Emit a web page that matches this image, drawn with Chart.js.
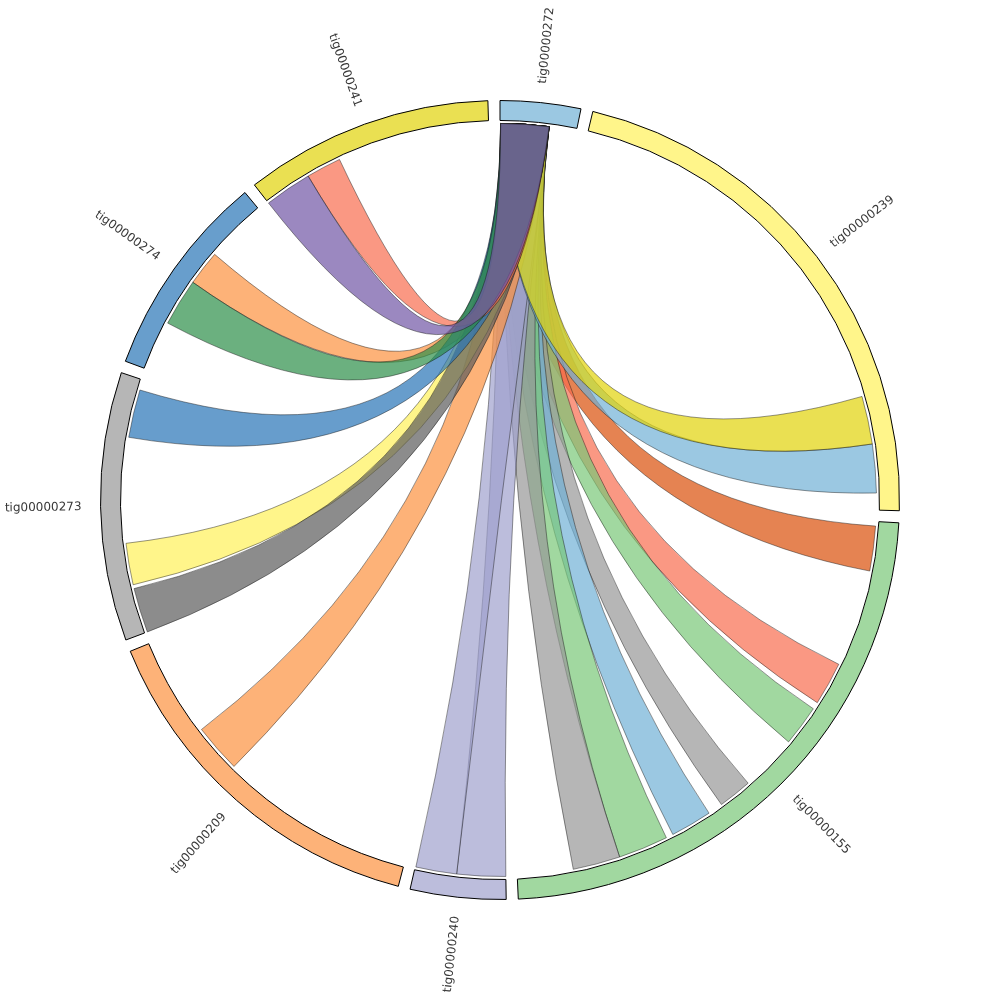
<!DOCTYPE html>
<html>

<head>
    <script src="https://cdn.jsdelivr.net/npm/chart.js"></script>
    <style>
        html,
        body {
            height: 100%;
            margin: 0px;
            background: #ffffff;
        }

        .container {
            height: 1000px;
            width: 1000px;
        }
    </style>
</head>

<body>
    <div class="container">
        <canvas id="myChart"></canvas>
    </div>

    <script>

        // contigs round the circle, clockwise from the top (lengths in kb)
        const contigs = ['tig00000272', 'tig00000239', 'tig00000155', 'tig00000240',
            'tig00000209', 'tig00000273', 'tig00000274', 'tig00000241'];
        const contigLengths = [117, 781, 841, 139, 530, 391, 300, 362];
        const contigColors = ['#9bc8e2', '#fff58a', '#a1d8a0', '#bcbddc',
            '#fdb278', '#b6b6b6', '#689ecc', '#eae052'];

        // links (positions in kb along each contig), drawn in this order
        const linkSource = ['tig00000272', 'tig00000272', 'tig00000272', 'tig00000272', 'tig00000272',
            'tig00000272', 'tig00000272', 'tig00000272', 'tig00000272', 'tig00000272',
            'tig00000272', 'tig00000272', 'tig00000272', 'tig00000272', 'tig00000272',
            'tig00000272', 'tig00000272', 'tig00000272', 'tig00000272'];
        const linkSourceStart = [1, 1, 1, 1, 1, 1, 1, 1, 1, 1, 1, 1, 1, 1, 1, 1, 1, 1, 1];
        const linkSourceEnd = [75, 75, 75, 75, 75, 75, 75, 75, 75, 75, 75, 75, 75, 75, 75, 75, 75, 75, 75];
        const linkTarget = ['tig00000155', 'tig00000155', 'tig00000155', 'tig00000155', 'tig00000155',
            'tig00000155', 'tig00000155', 'tig00000240', 'tig00000240', 'tig00000209',
            'tig00000239', 'tig00000239', 'tig00000273', 'tig00000274', 'tig00000273',
            'tig00000273', 'tig00000241', 'tig00000274', 'tig00000241'];
        const linkTargetStart = [7, 226, 304, 455, 530, 605, 682, 0, 75, 302, 680, 606, 75, 150, 0, 301, 73, 77, 0];
        const linkTargetEnd = [76, 293, 367, 507, 594, 682, 755, 75, 138, 377, 755, 680, 139, 204, 69, 375, 127, 150, 73];
        const linkColors = ['#e58353', '#fa9884', '#a1d8a0', '#b6b6b6', '#9bc8e2',
            '#a1d8a0', '#b6b6b6', '#bcbddc', '#bcbddc', '#fdb278',
            '#9bc8e2', '#eae052', '#fff58a', '#fdb278', '#8c8c8c',
            '#689ecc', '#fa9884', '#6bb07f', '#9b89c0'];

        const gapDeg = 1.7375;
        const ribbonAlpha = 0.7;
        const labelColor = '#383838';

        const total = contigLengths.reduce((a, b) => a + b, 0);
        const gap = total * gapDeg / (360 - contigs.length * gapDeg);

        // ring: contig, gap, contig, gap ...
        const ringData = [];
        const ringColors = [];
        const ringBorders = [];
        contigs.forEach((c, i) => {
            ringData.push(contigLengths[i]);
            ringColors.push(contigColors[i]);
            ringBorders.push(1);
            ringData.push(gap);
            ringColors.push('rgba(0,0,0,0)');
            ringBorders.push(0);
        });

        // colour that looks like `hex` on white once drawn with ribbonAlpha
        function ribbonFill(hex) {
            const n = parseInt(hex.slice(1), 16);
            const ch = [(n >> 16) & 255, (n >> 8) & 255, n & 255].map(v =>
                Math.max(0, Math.min(255, Math.round((v - 255 * (1 - ribbonAlpha)) / ribbonAlpha))));
            return `rgba(${ch[0]},${ch[1]},${ch[2]},${ribbonAlpha})`;
        }

        const chordPlugin = {
            id: 'chord',
            afterDatasetsDraw(chart) {
                const ctx = chart.ctx;
                const arcs = chart.getDatasetMeta(0).data;
                const cx = arcs[0].x;
                const cy = arcs[0].y;
                const r = arcs[0].innerRadius - 3;

                const angleAt = (name, pos) => {
                    const i = contigs.indexOf(name);
                    const a = arcs[i * 2];
                    return a.startAngle + (a.endAngle - a.startAngle) * pos / contigLengths[i];
                };

                ctx.save();
                ctx.lineWidth = 0.6;
                ctx.strokeStyle = 'rgba(20,20,20,0.75)';
                for (let i = 0; i < linkTarget.length; i++) {
                    const s0 = angleAt(linkSource[i], linkSourceStart[i]);
                    const s1 = angleAt(linkSource[i], linkSourceEnd[i]);
                    const t0 = angleAt(linkTarget[i], linkTargetStart[i]);
                    const t1 = angleAt(linkTarget[i], linkTargetEnd[i]);
                    ctx.beginPath();
                    ctx.arc(cx, cy, r, s0, s1);
                    ctx.quadraticCurveTo(cx, cy, cx + r * Math.cos(t0), cy + r * Math.sin(t0));
                    ctx.arc(cx, cy, r, t0, t1);
                    ctx.quadraticCurveTo(cx, cy, cx + r * Math.cos(s0), cy + r * Math.sin(s0));
                    ctx.closePath();
                    ctx.fillStyle = ribbonFill(linkColors[i]);
                    ctx.fill();
                    ctx.stroke();
                }

                // contig names, radial
                ctx.font = '12px "DejaVu Sans", sans-serif';
                ctx.fillStyle = labelColor;
                ctx.textBaseline = 'middle';
                contigs.forEach((name, i) => {
                    const a = arcs[i * 2];
                    const mid = (a.startAngle + a.endAngle) / 2;
                    const lr = a.outerRadius + 19;
                    ctx.save();
                    ctx.translate(cx, cy);
                    if (Math.cos(mid) >= 0) {
                        ctx.rotate(mid);
                        ctx.textAlign = 'left';
                        ctx.fillText(name, lr, 0);
                    } else {
                        ctx.rotate(mid + Math.PI);
                        ctx.textAlign = 'right';
                        ctx.fillText(name, -lr, 0);
                    }
                    ctx.restore();
                });
                ctx.restore();
            }
        };

        var context = document.getElementById('myChart').getContext('2d');
        var chart = new Chart(context, {
            type: 'doughnut',
            data: {
                labels: contigs.flatMap(c => [c, '']),
                datasets: [{
                    data: ringData,
                    backgroundColor: ringColors,
                    borderColor: '#000000',
                    borderWidth: ringBorders,
                    hoverOffset: 0
                }]
            },
            options: {
                responsive: true,
                maintainAspectRatio: false,
                animation: false,
                events: [],
                cutout: '95%',
                layout: {
                    padding: 100
                },
                plugins: {
                    legend: {
                        display: false
                    },
                    tooltip: {
                        enabled: false
                    }
                }
            },
            plugins: [chordPlugin]
        });

    </script>
</body>

</html>
